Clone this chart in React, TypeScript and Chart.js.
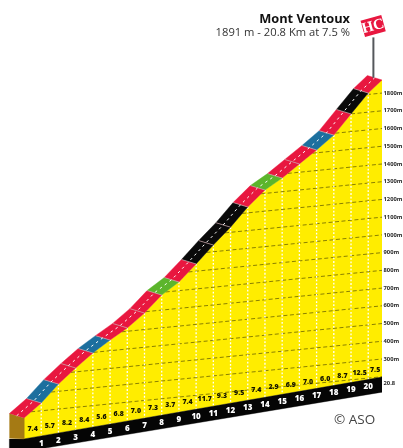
import React, { useEffect, useRef } from "react";
import { Chart, registerables } from "chart.js";

Chart.register(...registerables);

const kmMarks = [0, 1, 2, 3, 4, 5, 6, 7, 8, 9, 10, 11, 12, 13, 14, 15, 16, 17, 18, 19, 20, 20.8];
const elevations = [169, 244, 341, 422, 497, 560, 619, 693, 785, 849, 941, 1038, 1129, 1233, 1319, 1377, 1447, 1516, 1590, 1700, 1808, 1874];
const gradients = [7.4, 5.7, 8.2, 8.4, 5.6, 6.8, 7.0, 7.3, 3.7, 7.4, 11.7, 9.3, 9.5, 7.4, 2.9, 6.9, 7.0, 6.0, 8.7, 12.5, 7.5];
const kmLabels = [1, 2, 3, 4, 5, 6, 7, 8, 9, 10, 11, 12, 13, 14, 15, 16, 17, 18, 19, 20];
const contourLevels = [200, 300, 400, 500, 600, 700, 800, 900, 1000, 1100, 1200, 1300, 1400, 1500, 1600, 1700, 1800];
const tickLevels = [300, 400, 500, 600, 700, 800, 900, 1000, 1100, 1200, 1300, 1400, 1500, 1600, 1700, 1800];
const groundKm = [0, 20.8];
const groundElev = [51, 198];
const climbName = "Mont Ventoux";
const climbInfo = "1891 m - 20.8 Km at 7.5 %";
const credit = "© ASO";
const category = "HC";
const lengthLabel = "20.8";
const lengthLabelLevel = 165;

const LEN = 20.8;
const TILT = 9.7; // contour rise, metres per km
const BAND = 85; // ground band depth
const ROAD_DX = 0.85;
const ROAD_DY = 25;

const v = (km: number, e: number) => e - TILT * (LEN - km);
const groundAt = (km: number) => groundElev[0] + ((groundElev[1] - groundElev[0]) * (km - groundKm[0])) / (groundKm[1] - groundKm[0]);
const low = (i: number) => ({ x: kmMarks[i], y: v(kmMarks[i], elevations[i]) });
const up = (i: number) => ({ x: kmMarks[i] - ROAD_DX, y: v(kmMarks[i], elevations[i]) + ROAD_DY });
const colourFor = (g: number) => (g < 4 ? "#5cb52c" : g <= 6 ? "#1c6f9e" : g < 9 ? "#e8173f" : "#0a0a0a");

function contourStart(e: number) {
  for (let i = 1; i < kmMarks.length; i++) {
    if (elevations[i] >= e) {
      const t = (e - elevations[i - 1]) / (elevations[i] - elevations[i - 1]);
      return kmMarks[i - 1] + t * (kmMarks[i] - kmMarks[i - 1]);
    }
  }
  return LEN;
}

const line = (data: any[], color: string, width: number, dash: number[] = []) => ({
  data, borderColor: color, borderWidth: width, borderDash: dash, pointRadius: 0, fill: false, tension: 0,
});
const shape = (data: any[], color: string) => ({
  data, borderColor: color, backgroundColor: color, borderWidth: 0.4, pointRadius: 0, fill: "shape", tension: 0,
});

function buildDatasets() {
  const paint: any[] = [];
  const g0 = groundKm[0];
  const g1 = groundKm[1];
  // yellow body
  paint.push(shape([...kmMarks.map((_, i) => low(i)), { x: g1, y: v(g1, groundAt(g1)) }, { x: g0, y: v(g0, groundAt(g0)) }], "#ffed00"));
  // contours
  contourLevels.forEach((e) => {
    const s = contourStart(e);
    paint.push(line([{ x: s, y: v(s, e) }, { x: LEN, y: v(LEN, e) }], "#8a8000", 1, [4, 2.5]));
  });
  // km verticals
  kmLabels.forEach((k) => {
    const i = kmMarks.indexOf(k);
    paint.push(line([low(i), { x: k, y: v(k, groundAt(k)) }], "#ffffff", 1.3, [1.8, 1.8]));
  });
  // black ground band and side of the climb
  const left = g0 - ROAD_DX;
  paint.push(shape([
    { x: g0, y: v(g0, groundAt(g0)) }, { x: g1, y: v(g1, groundAt(g1)) },
    { x: g1, y: v(g1, groundAt(g1)) - BAND }, { x: left, y: v(g0, groundAt(g0)) - BAND }, { x: left, y: v(g0, groundAt(g0)) },
  ], "#050505"));
  paint.push(shape([
    up(0), low(0), { x: g0, y: v(g0, groundAt(g0)) }, { x: left, y: v(g0, groundAt(g0)) + 4 },
  ], "#a57a14"));
  // road segments
  gradients.forEach((g, i) => {
    paint.push(shape([low(i), low(i + 1), up(i + 1), up(i)], colourFor(g)));
  });
  // separators
  kmLabels.forEach((k) => {
    const i = kmMarks.indexOf(k);
    paint.push(line([low(i), up(i)], "#c9a3a8", 0.7));
  });
  // road centre
  paint.push(line(kmMarks.map((km, i) => ({ x: km - ROAD_DX / 2, y: v(km, elevations[i]) + ROAD_DY / 2 })), "#ffffff", 1, [2.5, 3.5]));
  // pole
  const n = kmMarks.length - 1;
  paint.push(line([{ x: LEN - 0.5, y: v(LEN, elevations[n]) + ROAD_DY / 2 }, { x: LEN - 0.5, y: v(LEN, elevations[n]) + 240 }], "#55585c", 2));
  return paint.reverse();
}

const annotate = {
  id: "annotate",
  afterDatasetsDraw(chart: any) {
    const { ctx, scales } = chart;
    const xs = scales.x;
    const ys = scales.y;
    ctx.save();
    ctx.textAlign = "center";
    ctx.textBaseline = "middle";
    // gradients
    ctx.font = '800 7px "Open Sans"';
    ctx.fillStyle = "#141400";
    gradients.forEach((g, i) => {
      const km = (kmMarks[i] + kmMarks[i + 1]) / 2;
      ctx.fillText(g.toFixed(1), xs.getPixelForValue(km), ys.getPixelForValue(v(km, groundAt(km)) + 47));
    });
    // km numbers
    ctx.font = '800 8px "Open Sans"';
    ctx.fillStyle = "#ffffff";
    kmLabels.forEach((k) => {
      ctx.fillText(String(k), xs.getPixelForValue(k), ys.getPixelForValue(v(k, groundAt(k)) - 42));
    });
    // flag, anchored on the pole
    const px = xs.getPixelForValue(LEN - 0.5);
    const py = ys.getPixelForValue(v(LEN, elevations[elevations.length - 1]) + 240);
    ctx.translate(px, py - 11.5);
    ctx.rotate(-0.27);
    ctx.fillStyle = "#e8173f";
    ctx.fillRect(-11, -8.5, 21.5, 17);
    ctx.fillStyle = "#ffffff";
    ctx.font = 'bold 15px "Liberation Sans Narrow"';
    ctx.fillText(category, -0.5, 0.5);
    ctx.restore();

    ctx.save();
    ctx.textBaseline = "middle";
    ctx.textAlign = "right";
    ctx.fillStyle = "#111111";
    ctx.font = 'bold 12.8px "Open Sans"';
    ctx.fillText(climbName, 350, 19);
    ctx.fillStyle = "#333333";
    ctx.font = '11.2px "Open Sans"';
    ctx.fillText(climbInfo, 350, 33);
    ctx.textAlign = "left";
    ctx.fillStyle = "#444444";
    ctx.font = '13.5px "Open Sans"';
    ctx.fillText(credit, 334, 420);
    ctx.restore();
  },
};

export default function App() {
  const ref = useRef<HTMLCanvasElement>(null);
  useEffect(() => {
    const chart = new Chart(ref.current as HTMLCanvasElement, {
      type: "line",
      data: { datasets: buildDatasets() },
      options: {
        animation: false,
        responsive: false,
        layout: { padding: 0 },
        plugins: { legend: { display: false }, tooltip: { enabled: false } },
        scales: {
          x: { type: "linear", display: false, min: -1.395, max: 20.8 },
          y: {
            type: "linear",
            position: "right",
            min: -202,
            max: 2325,
            border: { display: false },
            grid: { display: false, drawTicks: false },
            afterFit: (s: any) => { s.width = 21; s.paddingTop = 0; s.paddingBottom = 0; },
            afterBuildTicks: (s: any) => {
              s.ticks = [lengthLabelLevel, ...tickLevels].map((value) => ({ value }));
            },
            ticks: {
              autoSkip: false,
              padding: 1.5,
              color: "#2a2a2a",
              font: { family: "Open Sans", size: 5.8, weight: "bold" },
              callback: (val: any) => (val === lengthLabelLevel ? lengthLabel : `${val}m`),
            },
          },
        },
      },
      plugins: [annotate],
    } as any);
    return () => chart.destroy();
  }, []);
  return (
    <canvas
      ref={ref}
      width={403}
      height={448}
      style={{ position: "absolute", left: 0, top: 0, width: 403, height: 448, filter: "blur(0.5px)" }}
    />
  );
}
